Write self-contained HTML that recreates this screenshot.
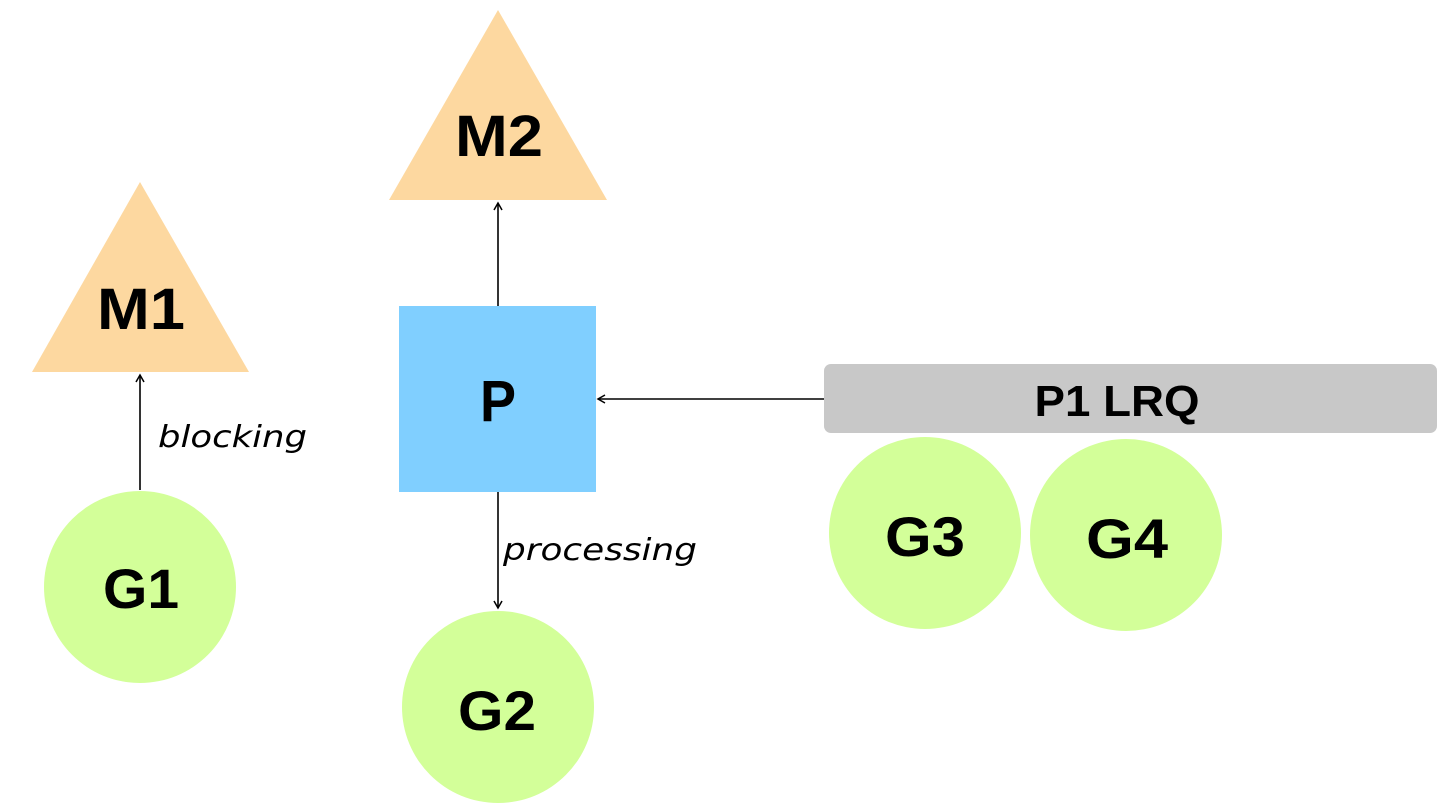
<!DOCTYPE html>
<html><head><meta charset="utf-8"><style>
html,body{margin:0;padding:0;background:#fff;}
svg{display:block;}
</style></head><body>
<svg width="1456" height="810" viewBox="0 0 1456 810" xmlns="http://www.w3.org/2000/svg">
<defs>
<marker id="a" markerWidth="10" markerHeight="10" refX="8" refY="5" orient="auto" markerUnits="userSpaceOnUse">
<path d="M1,1 L8,5 L1,9" fill="none" stroke="#000" stroke-width="1.5"/>
</marker>
</defs>
<rect width="1456" height="810" fill="#fff"/>
<polygon points="498,10 389,200 607,200" fill="#FDD8A0"/>
<polygon points="140,182 32,372 249,372" fill="#FDD8A0"/>
<rect x="399" y="306" width="197" height="186" fill="#80CFFF"/>
<rect x="824" y="364" width="613" height="69" rx="7" fill="#C8C8C8"/>
<circle cx="140" cy="587" r="96" fill="#D3FF99"/>
<circle cx="498" cy="707" r="96" fill="#D3FF99"/>
<circle cx="925" cy="533" r="96" fill="#D3FF99"/>
<circle cx="1126" cy="535" r="96" fill="#D3FF99"/>
<g stroke="#000" stroke-width="1.6" fill="none">
<line x1="140" y1="490" x2="140" y2="375" marker-end="url(#a)"/>
<line x1="498" y1="306" x2="498" y2="203" marker-end="url(#a)"/>
<line x1="498" y1="492" x2="498" y2="608" marker-end="url(#a)"/>
<line x1="824" y1="399" x2="598" y2="399" marker-end="url(#a)"/>
</g>
<g font-family="Liberation Sans, sans-serif" font-weight="bold" fill="#000" text-anchor="middle" lengthAdjust="spacingAndGlyphs">
<text x="499" y="156" font-size="58" textLength="88" lengthAdjust="spacingAndGlyphs">M2</text>
<text x="141" y="329" font-size="58" textLength="88" lengthAdjust="spacingAndGlyphs">M1</text>
<text x="498" y="421" font-size="58" textLength="36" lengthAdjust="spacingAndGlyphs">P</text>
<text x="1117" y="416" font-size="44" textLength="165" lengthAdjust="spacingAndGlyphs">P1 LRQ</text>
<text x="141" y="608" font-size="56" textLength="76" lengthAdjust="spacingAndGlyphs">G1</text>
<text x="497" y="730" font-size="56" textLength="78" lengthAdjust="spacingAndGlyphs">G2</text>
<text x="925" y="556" font-size="56" textLength="80" lengthAdjust="spacingAndGlyphs">G3</text>
<text x="1127" y="558" font-size="56" textLength="82" lengthAdjust="spacingAndGlyphs">G4</text>
</g>
<g font-family="DejaVu Sans, sans-serif" font-style="italic" fill="#000" font-size="30">
<text x="158" y="447" textLength="149" lengthAdjust="spacingAndGlyphs">blocking</text>
<text x="503" y="560" textLength="194" lengthAdjust="spacingAndGlyphs">processing</text>
</g>
</svg>
</body></html>
